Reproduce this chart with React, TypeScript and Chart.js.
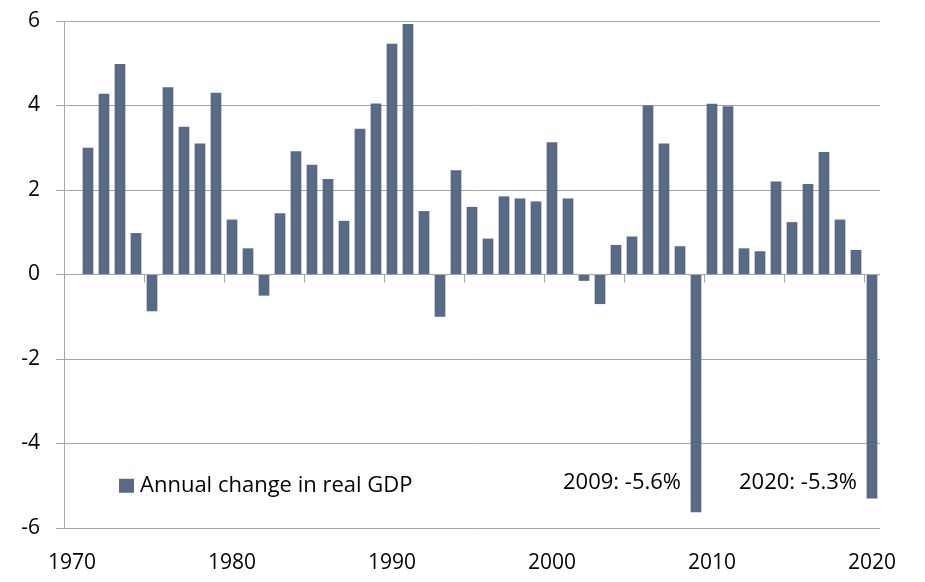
import React, { useEffect, useRef } from "react";
import { Chart, registerables } from "chart.js";

Chart.register(...registerables);

const years: string[] = [];
for (let y = 1970; y <= 2020; y++) years.push(String(y));

const gdpChange: (number | null)[] = [
  null, // 1970
  3.0, 4.28, 4.98, 0.98, -0.87, 4.43, 3.5, 3.1, 4.3, 1.3, // 1971-1980
  0.62, -0.5, 1.45, 2.92, 2.6, 2.26, 1.27, 3.45, 4.05, 5.46, // 1981-1990
  5.93, 1.5, -1.0, 2.47, 1.6, 0.85, 1.85, 1.8, 1.73, 3.13, // 1991-2000
  1.8, -0.15, -0.7, 0.7, 0.9, 4.0, 3.1, 0.67, -5.63, 4.04, // 2001-2010
  3.98, 0.62, 0.55, 2.2, 1.24, 2.14, 2.9, 1.3, 0.58, -5.3, // 2011-2020
];

const seriesLabel = "Annual change in real GDP";
const annotations = [
  { year: "2009", text: "2009: -5.6%" },
  { year: "2020", text: "2020: -5.3%" },
];

const FONT = "'Open Sans', sans-serif";
const BAR_COLOR = "#576a88";
const GRID_COLOR = "#a6a6a6";

const overlayPlugin = {
  id: "overlay",
  afterDatasetsDraw(chart: any) {
    const ctx = chart.ctx;
    const xs = chart.scales.x;
    const ys = chart.scales.y;
    const area = chart.chartArea;
    const y0 = ys.getPixelForValue(0);
    const step = (area.right - area.left) / years.length;
    ctx.save();
    ctx.strokeStyle = GRID_COLOR;
    ctx.lineWidth = 1;
    for (let i = 0; i <= years.length; i += 5) {
      const x = Math.round(area.left + i * step) + 0.5;
      ctx.beginPath();
      ctx.moveTo(x, y0);
      ctx.lineTo(x, y0 + 8);
      ctx.stroke();
    }
    ctx.fillStyle = "#000";
    ctx.font = `22px ${FONT}`;
    ctx.textAlign = "right";
    ctx.textBaseline = "middle";
    const yText = ys.getPixelForValue(-5) - 3;
    for (const a of annotations) {
      const idx = years.indexOf(a.year);
      const x = xs.getPixelForValue(idx) - 15;
      ctx.fillText(a.text, x, yText);
    }
    const lx = area.left + 55;
    const ly = ys.getPixelForValue(-5);
    ctx.fillStyle = BAR_COLOR;
    ctx.fillRect(lx, ly - 7, 15, 14);
    ctx.fillStyle = "#000";
    ctx.textAlign = "left";
    ctx.fillText(seriesLabel, lx + 21, ly);
    ctx.restore();
  },
};

export default function App() {
  const ref = useRef<HTMLCanvasElement | null>(null);
  useEffect(() => {
    if (!ref.current) return;
    const chart = new Chart(ref.current, {
      type: "bar",
      data: {
        labels: years,
        datasets: [
          {
            label: seriesLabel,
            data: gdpChange,
            backgroundColor: BAR_COLOR,
            categoryPercentage: 1,
            barPercentage: 0.67,
          },
        ],
      },
      options: {
        responsive: false,
        animation: false,
        layout: { padding: { left: 0, right: 45, top: 21, bottom: 0 } },
        plugins: { legend: { display: false }, tooltip: { enabled: false } },
        scales: {
          x: {
            offset: true,
            grid: { display: false, drawTicks: false, tickLength: 0 },
            border: { display: false },
            ticks: {
              autoSkip: false,
              maxRotation: 0,
              padding: 22,
              color: "#000",
              font: { family: FONT, size: 21 },
              callback: (_v: any, i: number) => (Number(years[i]) % 10 === 0 ? years[i] : ""),
            },
            afterFit: (s: any) => {
              s.height = 54;
              s.paddingLeft = 0;
              s.paddingRight = 0;
            },
          },
          y: {
            min: -6,
            max: 6,
            grid: { color: GRID_COLOR, tickLength: 8, drawTicks: true },
            border: { display: true, color: GRID_COLOR },
            ticks: {
              stepSize: 2,
              padding: 16,
              color: "#000",
              font: { family: FONT, size: 21 },
            },
            afterFit: (s: any) => {
              s.width = 64;
              s.paddingTop = 0;
              s.paddingBottom = 0;
            },
          },
        },
      },
      plugins: [overlayPlugin],
    });
    return () => chart.destroy();
  }, []);
  return (
    <div style={{ position: "fixed", left: 0, top: 0, width: 925, height: 582, background: "#fff" }}>
      <canvas ref={ref} width={925} height={582} />
    </div>
  );
}
